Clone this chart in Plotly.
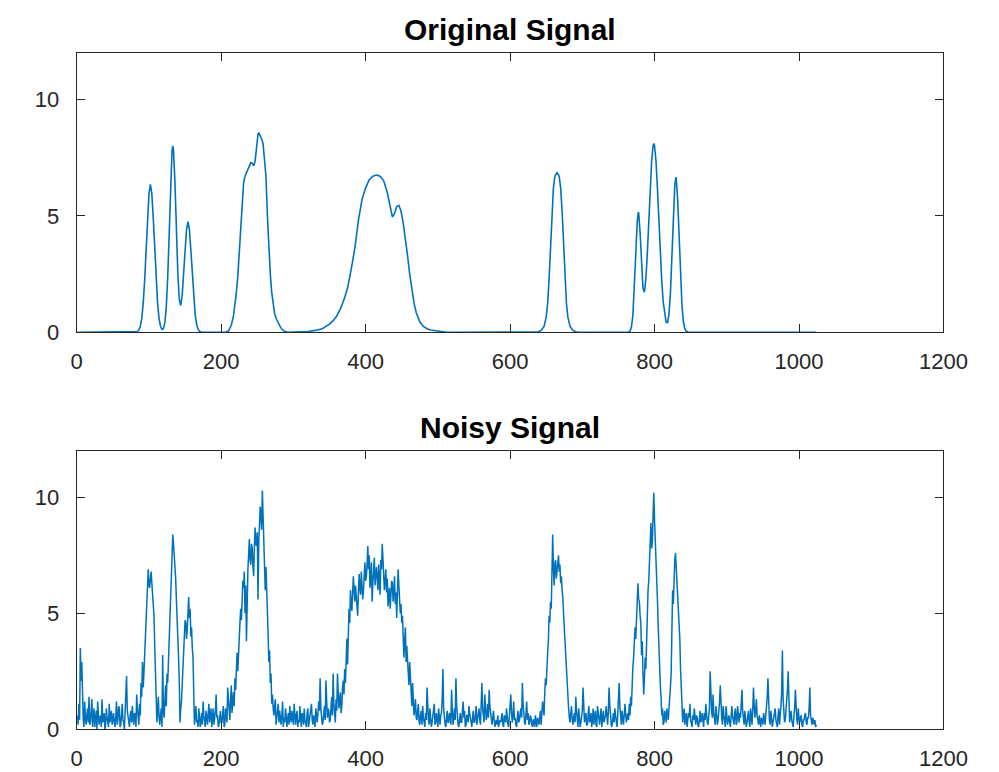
import plotly.graph_objects as go

# ---- smooth reference signal (sample index, amplitude) ----
orig_x = [1, 80, 84, 86, 88, 90, 92, 94, 96, 98, 100, 102, 104, 106, 108, 110, 112, 114, 116, 118,
          120, 122, 124, 126, 128, 130, 132, 133, 134, 136, 138, 140, 142, 144, 146, 148, 150, 152,
          154, 156, 158, 160, 162, 164, 166, 168, 170, 172, 176,
          206, 210, 214, 217, 219, 221, 223, 225, 227, 229, 231, 233, 235, 237, 239, 241, 243, 245,
          247, 249, 251, 252, 254, 256, 258, 260, 262, 264, 266, 268, 270, 272, 274, 276, 279, 282,
          285, 288, 292,
          310, 320, 330, 340, 350, 355, 360, 365, 370, 375, 380, 385, 390, 395, 400, 405, 410, 415,
          420, 425, 430, 434, 437, 440, 443, 446, 449, 452, 455, 458, 461, 464, 467, 470, 475, 480,
          485, 490, 500, 510, 520,
          635, 639, 643, 647, 650, 652, 654, 656, 658, 660, 662, 665, 668, 670, 672, 674, 676, 678,
          680, 683, 687, 691, 695,
          760, 764, 766, 768, 770, 772, 774, 776, 777.5, 778, 780, 782, 784, 786, 788, 790, 792, 794,
          796, 798, 799, 800, 802, 804, 806, 808, 810, 812, 814, 816, 818, 820, 822, 824, 826, 828,
          829.5, 830, 832, 834, 836, 838, 840, 842, 844, 846, 850, 1024]
orig_y = [0, 0, 0.03, 0.09, 0.25, 0.59, 1.22, 2.20, 3.50, 4.88, 5.94, 6.35, 5.94, 4.88, 3.50, 2.20,
          1.22, 0.59, 0.26, 0.12, 0.15, 0.41, 1.08, 2.38, 4.31, 6.41, 7.81, 8.0, 7.81, 6.42, 4.35,
          2.51, 1.41, 1.15, 1.58, 2.47, 3.54, 4.41, 4.75, 4.41, 3.53, 2.44, 1.46, 0.75, 0.33, 0.13,
          0.04, 0.01, 0,
          0, 0.05, 0.3, 0.7, 1.1, 1.7, 2.4, 3.4, 4.6, 5.7, 6.4, 6.7, 6.85, 6.95, 7.15, 7.28, 7.25,
          7.15, 7.35, 8.0, 8.5, 8.57, 8.45, 8.3, 8.1, 7.5, 6.7, 5.0, 3.6, 2.5, 1.7, 1.1, 0.8, 0.6,
          0.39, 0.22, 0.1, 0.04, 0,
          0, 0.03, 0.08, 0.15, 0.35, 0.5, 0.7, 1.0, 1.4, 1.9, 2.7, 3.6, 4.8, 5.7, 6.2, 6.55, 6.7,
          6.75, 6.7, 6.5, 6.0, 5.4, 4.95, 5.1, 5.4, 5.45, 5.2, 4.7, 4.1, 3.3, 2.5, 1.8, 1.25, 0.85,
          0.45, 0.25, 0.15, 0.1, 0.04, 0.01, 0,
          0, 0.02, 0.08, 0.25, 0.65, 1.25, 2.3, 3.7, 5.2, 6.2, 6.7, 6.85, 6.7, 6.2, 5.2, 3.7, 2.3,
          1.25, 0.65, 0.25, 0.08, 0.02, 0,
          0, 0.01, 0.05, 0.22, 0.73, 1.79, 3.35, 4.75, 5.15, 5.13, 4.27, 2.89, 1.89, 1.72, 2.30,
          3.39, 4.77, 6.18, 7.35, 8.01, 8.1, 8.01, 7.35, 6.18, 4.77, 3.37, 2.19, 1.30, 0.73, 0.43,
          0.41, 0.79, 1.69, 3.16, 4.92, 6.29, 6.65, 6.61, 5.70, 4.03, 2.34, 1.12, 0.44, 0.14, 0.04,
          0.01, 0, 0]

# ---- noisy measurement, one value per sample (x = 1 ... 1024), 50 samples per row ----
noisy_x = list(range(1, 1025))
noisy_y = [
    0.6, 0.2, 1.1, 0.4, 3.5, 2.1, 2.9, 0.7, 0.4, 0.1, 1.2, 0.5, 0.2, 0.6, 0.9, 0.3, 1.4, 0.2, 0.3, 0.8,
    1.3, 0.1, 0.5, 0.9, 0.1, 0.4, 0.8, 0.0, 1.2, 0.6, 0.2, 0.5, 0.6, 0.1, 1.3, 0.3, 0.4, 0.7, 0.0, 0.2,
    0.9, 0.5, 0.3, 0.1, 1.1, 0.3, 0.5, 0.8, 0.2, 0.4,
    0.7, 0.3, 0.1, 0.5, 1.2, 0.2, 0.4, 1.0, 0.9, 0.1, 0.2, 0.6, 1.1, 0.4, 0.3, 0.0, 0.6, 1.2, 2.3, 0.8,
    0.5, 0.2, 0.1, 0.6, 0.8, 0.3, 1.0, 0.5, 0.2, 0.7, 0.6, 0.1, 1.5, 0.9, 0.4, 0.2, 1.1, 0.6, 2.0, 1.4,
    2.9, 1.8, 2.4, 3.1, 3.7, 4.2, 4.8, 5.6, 6.9, 6.2,
    6.1, 6.5, 6.8, 6.3, 5.9, 5.2, 4.9, 3.6, 2.3, 1.5, 0.3, 0.9, 1.4, 0.5, 0.2, 0.6, 0.9, 0.1, 3.2, 0.8,
    0.5, 1.2, 1.9, 1.0, 2.4, 2.0, 3.0, 4.2, 5.1, 6.3, 7.0, 7.9, 8.4, 8.0, 7.6, 6.9, 6.5, 5.6, 4.9, 3.9,
    3.1, 2.0, 0.3, 0.9, 1.2, 1.9, 2.6, 3.4, 4.1, 4.7,
    4.6, 3.9, 4.3, 5.1, 5.7, 4.8, 5.2, 4.0, 4.4, 3.5, 3.1, 1.6, 0.2, 0.6, 1.0, 0.3, 0.4, 0.1, 0.9, 0.5,
    0.1, 0.4, 0.7, 0.2, 1.2, 0.6, 0.3, 0.1, 0.8, 0.4, 0.2, 0.7, 1.1, 0.3, 0.5, 0.9, 0.1, 0.4, 0.9, 0.2,
    0.4, 0.8, 1.5, 0.5, 0.6, 0.1, 0.2, 0.7, 0.8, 0.3,
    0.3, 0.6, 1.0, 0.1, 0.2, 0.9, 0.6, 0.3, 1.8, 1.1, 0.9, 0.4, 1.3, 1.9, 0.7, 1.2, 1.6, 1.0, 2.2, 1.7,
    2.8, 3.3, 2.5, 3.0, 3.9, 4.6, 5.2, 4.7, 5.8, 6.4, 6.1, 6.8, 5.0, 6.2, 3.8, 6.0, 6.9, 7.5, 8.2, 7.3,
    7.1, 8.0, 7.8, 7.0, 6.6, 7.9, 8.7, 8.0, 7.9, 8.5,
    5.6, 8.0, 8.9, 9.6, 9.2, 8.6, 10.3, 9.1, 8.4, 7.2, 6.0, 7.0, 6.2, 5.0, 4.1, 2.9, 3.4, 2.0, 2.4, 1.1,
    1.5, 0.9, 0.6, 1.0, 1.3, 0.2, 0.4, 0.8, 1.1, 0.3, 0.8, 0.5, 0.2, 0.6, 1.2, 0.1, 0.5, 0.3, 0.9, 0.6,
    0.1, 0.4, 0.7, 0.2, 1.0, 0.5, 0.3, 0.8, 0.6, 0.2,
    1.1, 0.5, 0.2, 0.6, 0.8, 0.1, 0.4, 0.3, 1.0, 0.5, 0.1, 0.7, 0.6, 0.2, 0.9, 0.4, 0.3, 0.1, 0.7, 0.9,
    0.1, 0.3, 0.5, 0.8, 1.1, 0.4, 0.2, 0.6, 0.4, 0.1, 0.9, 0.5, 0.3, 0.7, 1.2, 0.8, 2.2, 0.9, 0.6, 0.2,
    0.3, 0.8, 1.0, 0.4, 2.1, 1.3, 0.5, 0.9, 0.8, 0.3,
    0.4, 0.9, 1.4, 0.6, 2.4, 1.1, 0.7, 0.3, 1.3, 0.8, 2.4, 1.5, 0.9, 1.2, 1.6, 0.7, 1.0, 1.8, 2.1, 1.5,
    2.6, 2.0, 3.2, 3.9, 2.8, 4.1, 5.2, 4.6, 6.0, 5.4, 5.1, 5.9, 6.6, 6.0, 5.5, 6.2, 5.7, 5.0, 4.9, 5.9,
    6.7, 6.1, 5.8, 6.8, 6.3, 5.6, 6.0, 6.9, 7.2, 6.4,
    6.6, 7.1, 7.9, 6.9, 7.5, 6.1, 6.4, 7.2, 5.5, 6.3, 6.8, 7.4, 6.2, 6.7, 7.0, 6.5, 6.0, 7.1, 6.6, 5.8,
    7.3, 6.9, 8.0, 7.4, 7.1, 6.0, 6.4, 6.9, 5.9, 6.5, 5.3, 5.9, 6.1, 5.2, 5.6, 6.4, 6.3, 5.5, 5.9, 6.6,
    5.4, 5.9, 4.8, 5.6, 6.9, 6.2, 5.8, 5.0, 5.4, 4.6,
    4.9, 4.2, 3.1, 3.8, 4.4, 2.9, 3.6, 3.0, 2.4, 1.9, 2.9, 2.2, 1.5, 1.0, 2.0, 1.2, 0.6, 0.9, 1.3, 0.5,
    0.4, 0.8, 1.1, 0.3, 0.2, 0.6, 0.8, 0.2, 1.0, 0.5, 0.3, 0.1, 0.7, 0.4, 1.8, 0.8, 0.4, 0.2, 0.9, 0.5,
    0.1, 0.3, 0.6, 0.9, 1.1, 0.2, 0.3, 0.7, 0.5, 0.1,
    0.9, 0.4, 0.2, 0.6, 0.7, 1.3, 2.6, 0.9, 0.4, 0.2, 0.1, 0.5, 0.8, 0.3, 0.3, 0.7, 0.6, 0.2, 1.7, 0.8,
    0.2, 0.5, 0.9, 0.4, 2.2, 1.0, 0.5, 0.2, 0.1, 0.6, 0.7, 0.3, 0.3, 0.8, 1.2, 0.5, 0.8, 0.1, 0.2, 0.6,
    0.6, 0.3, 1.0, 0.7, 0.4, 0.2, 0.1, 0.5, 0.8, 0.3,
    0.3, 0.6, 1.0, 0.2, 0.5, 0.8, 0.9, 0.4, 0.2, 1.1, 2.0, 0.9, 0.7, 0.3, 1.5, 0.8, 0.4, 0.6, 1.1, 0.5,
    1.7, 1.0, 0.6, 0.3, 0.2, 0.5, 0.8, 0.4, 0.1, 0.3, 0.4, 0.2, 0.6, 0.1, 0.2, 0.4, 0.3, 0.5, 0.7, 0.2,
    0.1, 0.6, 0.5, 0.3, 0.9, 0.4, 0.2, 0.1, 0.6, 0.8,
    1.5, 0.7, 0.3, 0.6, 1.2, 0.4, 0.5, 0.2, 0.1, 0.5, 0.8, 0.3, 0.4, 0.7, 0.9, 0.5, 2.0, 1.1, 0.6, 0.3,
    0.2, 0.6, 1.2, 0.4, 0.7, 0.2, 0.3, 0.6, 0.5, 0.2, 0.1, 0.4, 0.4, 0.1, 0.6, 0.3, 0.1, 0.5, 0.3, 0.2,
    0.5, 0.8, 0.2, 0.7, 1.2, 0.9, 0.6, 1.6, 2.2, 1.9,
    2.9, 3.3, 3.8, 4.9, 4.6, 5.5, 5.2, 6.6, 8.4, 7.0, 6.2, 7.1, 7.3, 6.5, 6.9, 7.4, 7.5, 6.8, 7.1, 6.3,
    6.6, 6.0, 5.7, 5.0, 4.4, 3.6, 3.1, 2.2, 1.6, 1.2, 0.9, 0.5, 0.3, 0.7, 1.0, 0.4, 0.2, 0.5, 0.7, 0.3,
    1.4, 0.8, 0.4, 0.1, 0.9, 0.5, 0.1, 0.3, 0.6, 0.8,
    1.8, 0.9, 0.3, 0.5, 0.7, 0.2, 0.2, 0.6, 1.0, 0.3, 0.4, 0.7, 0.1, 0.4, 0.9, 0.2, 0.5, 0.8, 0.2, 0.1,
    1.0, 0.6, 0.3, 0.2, 0.6, 0.9, 0.1, 0.4, 0.8, 0.3, 0.4, 0.6, 1.0, 0.5, 0.2, 0.7, 1.8, 1.1, 0.5, 0.2,
    0.1, 0.4, 0.7, 0.3, 0.9, 0.6, 0.3, 0.1, 0.6, 1.2,
    2.0, 1.0, 0.4, 0.2, 0.8, 0.5, 0.2, 0.6, 1.1, 0.7, 0.3, 0.5, 0.7, 0.4, 1.1, 0.6, 1.4, 1.0, 2.2, 2.7,
    3.1, 3.6, 4.4, 3.9, 5.0, 5.8, 6.3, 5.6, 5.5, 4.9, 4.6, 3.2, 3.8, 2.4, 1.5, 2.2, 3.1, 2.6, 4.2, 5.1,
    6.0, 6.4, 7.2, 8.6, 8.9, 7.8, 8.1, 9.3, 10.2, 9.0,
    8.3, 7.4, 6.6, 5.6, 4.5, 3.3, 2.4, 1.9, 1.4, 0.6, 0.9, 0.2, 0.3, 0.8, 0.6, 0.3, 0.9, 0.5, 0.4, 0.9,
    1.2, 1.8, 2.4, 4.1, 6.0, 5.4, 6.9, 7.3, 7.6, 7.0, 6.7, 6.1, 5.5, 4.6, 3.9, 2.6, 1.8, 0.9, 0.3, 0.6,
    0.9, 0.2, 0.4, 0.7, 0.1, 0.3, 0.7, 0.5, 1.1, 0.4,
    0.3, 0.1, 0.6, 0.4, 0.9, 0.5, 0.2, 0.6, 0.5, 0.2, 0.1, 0.4, 0.8, 0.3, 0.4, 0.7, 0.2, 0.1, 0.7, 0.4,
    1.1, 0.6, 0.3, 0.2, 0.6, 0.9, 2.5, 1.2, 0.8, 0.5, 1.5, 0.7, 0.4, 0.2, 1.0, 0.6, 0.2, 0.4, 0.7, 1.2,
    1.9, 0.9, 0.5, 0.2, 1.0, 0.6, 0.3, 0.1, 1.0, 0.5,
    0.2, 0.4, 0.6, 0.3, 0.1, 0.5, 1.0, 0.6, 0.4, 0.2, 0.7, 0.9, 0.2, 0.3, 1.0, 0.5, 0.3, 0.7, 0.5, 1.1,
    1.7, 0.8, 0.4, 0.2, 0.8, 0.5, 0.1, 0.3, 0.6, 0.8, 0.3, 0.1, 0.9, 0.5, 0.2, 0.9, 1.8, 1.0, 0.5, 0.8,
    1.3, 0.6, 0.3, 0.2, 0.6, 0.4, 0.1, 0.5, 0.4, 0.2,
    0.7, 0.3, 0.2, 0.6, 0.9, 1.4, 2.2, 0.8, 0.4, 0.2, 0.8, 0.5, 0.1, 0.3, 0.5, 0.7, 0.9, 0.4, 0.3, 0.1,
    0.6, 0.9, 0.2, 0.5, 1.0, 1.6, 3.4, 1.3, 0.7, 0.3, 0.4, 0.8, 1.2, 1.7, 2.5, 0.9, 0.3, 0.5, 0.8, 0.4,
    0.2, 0.1, 0.6, 0.9, 1.7, 0.8, 0.4, 0.2, 0.9, 0.5,
    0.3, 0.5, 0.6, 0.2, 0.1, 0.4, 0.4, 0.6, 0.7, 0.3, 0.2, 0.5, 0.5, 0.9, 1.8, 0.6, 0.3, 0.2, 0.5, 0.3,
    0.2, 0.4, 0.1, 0.2,
]

x_ticks = [0, 200, 400, 600, 800, 1000, 1200]
y_ticks = [0, 5, 10]
titles = ["Original Signal", "Noisy Signal"]

LINE_BLUE = "#0072BD"
AXIS_GRAY = "#262626"
FONT = "Liberation Sans, Arial, sans-serif"

fig = go.Figure()
fig.add_trace(go.Scatter(x=orig_x, y=orig_y, mode="lines",
                         line=dict(color=LINE_BLUE, width=1.6), xaxis="x", yaxis="y"))
fig.add_trace(go.Scatter(x=noisy_x, y=noisy_y, mode="lines",
                         line=dict(color=LINE_BLUE, width=1.5), xaxis="x2", yaxis="y2"))

x_dom = [0.0768, 0.9444]
common_x = dict(range=[0, 1200], tickvals=x_ticks, ticks="inside", ticklen=8, tickwidth=1,
                tickcolor=AXIS_GRAY, showline=True, linecolor=AXIS_GRAY, linewidth=1,
                mirror="ticks", showgrid=False, zeroline=False, automargin=False,
                ticklabelstandoff=9,
                tickfont=dict(family=FONT, size=22, color=AXIS_GRAY), domain=x_dom)
common_y = dict(range=[0, 12], tickvals=y_ticks, ticks="inside", ticklen=8, tickwidth=1,
                tickcolor=AXIS_GRAY, showline=True, linecolor=AXIS_GRAY, linewidth=1,
                mirror="ticks", showgrid=False, zeroline=False, automargin=False,
                ticklabelstandoff=12,
                tickfont=dict(family=FONT, size=22, color=AXIS_GRAY))

top_dom = [0.5696, 0.9317]
bot_dom = [0.0553, 0.4158]

fig.update_layout(
    width=999, height=772,
    margin=dict(l=0, r=0, t=0, b=0),
    paper_bgcolor="white", plot_bgcolor="white",
    showlegend=False,
    xaxis=dict(common_x, anchor="y"),
    yaxis=dict(common_y, anchor="x", domain=top_dom),
    xaxis2=dict(common_x, anchor="y2"),
    yaxis2=dict(common_y, anchor="x2", domain=bot_dom),
    annotations=[
        dict(text="<b>%s</b>" % titles[0], x=sum(x_dom) / 2, y=top_dom[1], xref="paper", yref="paper",
             xanchor="center", yanchor="bottom", yshift=5, showarrow=False,
             font=dict(family=FONT, size=30, color="black")),
        dict(text="<b>%s</b>" % titles[1], x=sum(x_dom) / 2, y=bot_dom[1], xref="paper", yref="paper",
             xanchor="center", yanchor="bottom", yshift=5, showarrow=False,
             font=dict(family=FONT, size=30, color="black")),
    ],
)

fig.write_html("out.html")
